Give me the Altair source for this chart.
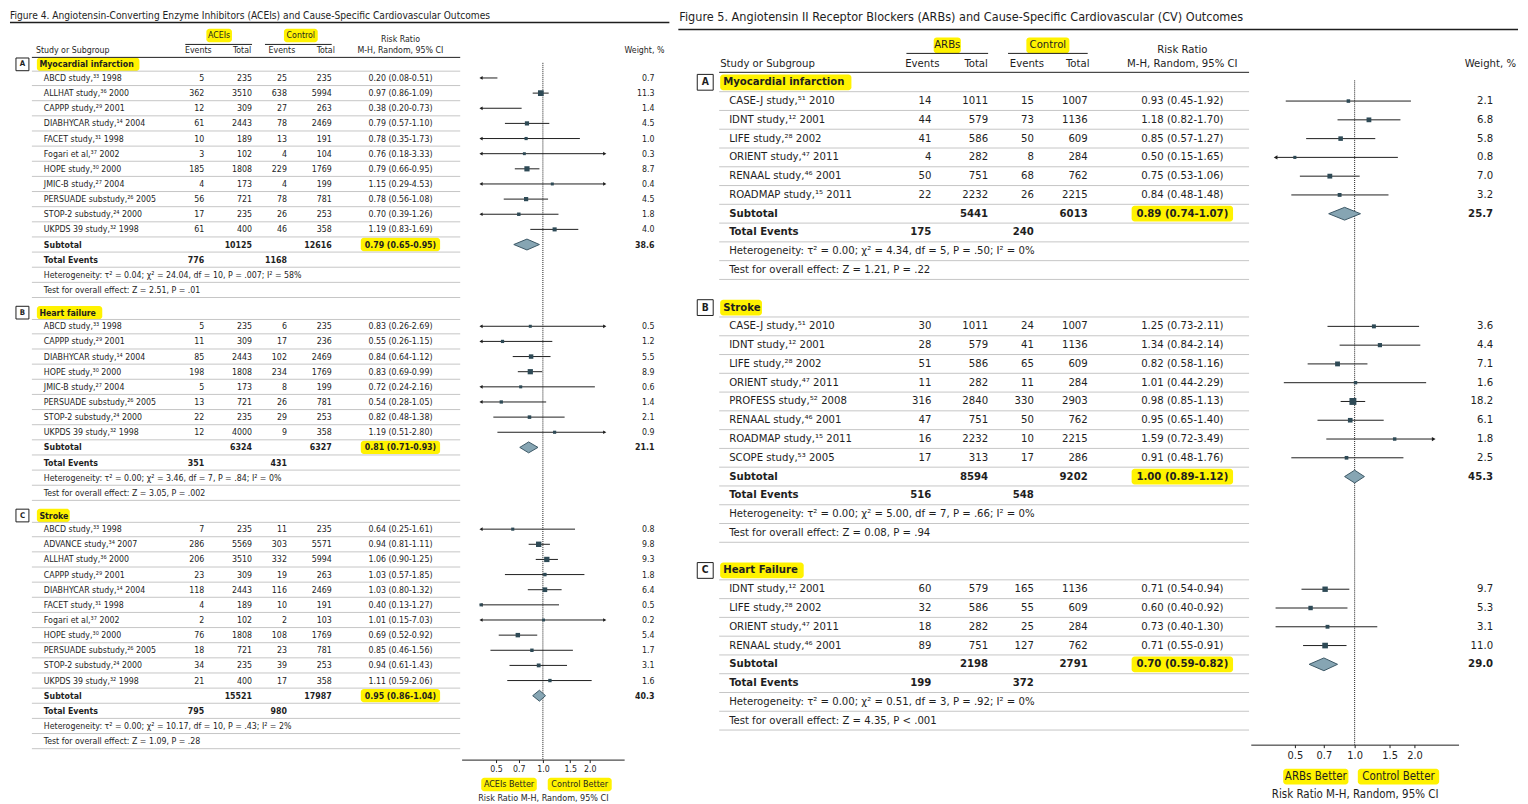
import altair as alt
import pandas as pd

FONT = "'Liberation Sans Narrow', 'DejaVu Sans Condensed', 'Roboto Condensed', 'Arial Narrow', 'Liberation Sans', sans-serif"
INK = "#1e1e1e"
GRID = "#c6c6c6"
HILITE = "#fff200"
SQ = "#2e4a56"
DIA_FILL = "#86a5b3"
DIA_STROKE = "#3c5866"

# ---------------- Figure 4 (ACEIs) ----------------
f4_title = "Figure 4. Angiotensin-Converting Enzyme Inhibitors (ACEIs) and Cause-Specific Cardiovascular Outcomes"
f4_group = "ACEIs"
f4_better = ["ACEIs Better", "Control Better"]

f4a_label = "Myocardial infarction"
f4a_studies = ["ABCD study,³³ 1998", "ALLHAT study,³⁶ 2000", "CAPPP study,²⁹ 2001", "DIABHYCAR study,¹⁴ 2004",
               "FACET study,³¹ 1998", "Fogari et al,³⁷ 2002", "HOPE study,³⁰ 2000", "JMIC-B study,²⁷ 2004",
               "PERSUADE substudy,²⁶ 2005", "STOP-2 substudy,²⁴ 2000", "UKPDS 39 study,³² 1998"]
f4a_ev_t = [5, 362, 12, 61, 10, 3, 185, 4, 56, 17, 61]
f4a_n_t = [235, 3510, 309, 2443, 189, 102, 1808, 173, 721, 235, 400]
f4a_ev_c = [25, 638, 27, 78, 13, 4, 229, 4, 78, 26, 46]
f4a_n_c = [235, 5994, 263, 2469, 191, 104, 1769, 199, 781, 253, 358]
f4a_rr = [0.20, 0.97, 0.38, 0.79, 0.78, 0.76, 0.79, 1.15, 0.78, 0.70, 1.19]
f4a_lo = [0.08, 0.86, 0.20, 0.57, 0.35, 0.18, 0.66, 0.29, 0.56, 0.39, 0.83]
f4a_hi = [0.51, 1.09, 0.73, 1.10, 1.73, 3.33, 0.95, 4.53, 1.08, 1.26, 1.69]
f4a_wt = [0.7, 11.3, 1.4, 4.5, 1.0, 0.3, 8.7, 0.4, 4.5, 1.8, 4.0]
f4a_sub = [10125, 12616, 0.79, 0.65, 0.95, 38.6]
f4a_events = [776, 1168]
f4a_het = "Heterogeneity: τ² = 0.04; χ² = 24.04, df = 10, P = .007; I² = 58%"
f4a_test = "Test for overall effect: Z = 2.51, P = .01"

f4b_label = "Heart failure"
f4b_studies = ["ABCD study,³³ 1998", "CAPPP study,²⁹ 2001", "DIABHYCAR study,¹⁴ 2004", "HOPE study,³⁰ 2000",
               "JMIC-B study,²⁷ 2004", "PERSUADE substudy,²⁶ 2005", "STOP-2 substudy,²⁴ 2000", "UKPDS 39 study,³² 1998"]
f4b_ev_t = [5, 11, 85, 198, 5, 13, 22, 12]
f4b_n_t = [235, 309, 2443, 1808, 173, 721, 235, 4000]
f4b_ev_c = [6, 17, 102, 234, 8, 26, 29, 9]
f4b_n_c = [235, 236, 2469, 1769, 199, 781, 253, 358]
f4b_rr = [0.83, 0.55, 0.84, 0.83, 0.72, 0.54, 0.82, 1.19]
f4b_lo = [0.26, 0.26, 0.64, 0.69, 0.24, 0.28, 0.48, 0.51]
f4b_hi = [2.69, 1.15, 1.12, 0.99, 2.16, 1.05, 1.38, 2.80]
f4b_wt = [0.5, 1.2, 5.5, 8.9, 0.6, 1.4, 2.1, 0.9]
f4b_sub = [6324, 6327, 0.81, 0.71, 0.93, 21.1]
f4b_events = [351, 431]
f4b_het = "Heterogeneity: τ² = 0.00; χ² = 3.46, df = 7, P = .84; I² = 0%"
f4b_test = "Test for overall effect: Z = 3.05, P = .002"

f4c_label = "Stroke"
f4c_studies = ["ABCD study,³³ 1998", "ADVANCE study,³⁴ 2007", "ALLHAT study,³⁶ 2000", "CAPPP study,²⁹ 2001",
               "DIABHYCAR study,¹⁴ 2004", "FACET study,³¹ 1998", "Fogari et al,³⁷ 2002", "HOPE study,³⁰ 2000",
               "PERSUADE substudy,²⁶ 2005", "STOP-2 substudy,²⁴ 2000", "UKPDS 39 study,³² 1998"]
f4c_ev_t = [7, 286, 206, 23, 118, 4, 2, 76, 18, 34, 21]
f4c_n_t = [235, 5569, 3510, 309, 2443, 189, 102, 1808, 721, 235, 400]
f4c_ev_c = [11, 303, 332, 19, 116, 10, 2, 108, 23, 39, 17]
f4c_n_c = [235, 5571, 5994, 263, 2469, 191, 103, 1769, 781, 253, 358]
f4c_rr = [0.64, 0.94, 1.06, 1.03, 1.03, 0.40, 1.01, 0.69, 0.85, 0.94, 1.11]
f4c_lo = [0.25, 0.81, 0.90, 0.57, 0.80, 0.13, 0.15, 0.52, 0.46, 0.61, 0.59]
f4c_hi = [1.61, 1.11, 1.25, 1.85, 1.32, 1.27, 7.03, 0.92, 1.56, 1.43, 2.06]
f4c_wt = [0.8, 9.8, 9.3, 1.8, 6.4, 0.5, 0.2, 5.4, 1.7, 3.1, 1.6]
f4c_sub = [15521, 17987, 0.95, 0.86, 1.04, 40.3]
f4c_events = [795, 980]
f4c_het = "Heterogeneity: τ² = 0.00; χ² = 10.17, df = 10, P = .43; I² = 2%"
f4c_test = "Test for overall effect: Z = 1.09, P = .28"

# ---------------- Figure 5 (ARBs) ----------------
f5_title = "Figure 5. Angiotensin II Receptor Blockers (ARBs) and Cause-Specific Cardiovascular (CV) Outcomes"
f5_group = "ARBs"
f5_better = ["ARBs Better", "Control Better"]

f5a_label = "Myocardial infarction"
f5a_studies = ["CASE-J study,⁵¹ 2010", "IDNT study,¹² 2001", "LIFE study,²⁸ 2002", "ORIENT study,⁴⁷ 2011",
               "RENAAL study,⁴⁶ 2001", "ROADMAP study,¹⁵ 2011"]
f5a_ev_t = [14, 44, 41, 4, 50, 22]
f5a_n_t = [1011, 579, 586, 282, 751, 2232]
f5a_ev_c = [15, 73, 50, 8, 68, 26]
f5a_n_c = [1007, 1136, 609, 284, 762, 2215]
f5a_rr = [0.93, 1.18, 0.85, 0.50, 0.75, 0.84]
f5a_lo = [0.45, 0.82, 0.57, 0.15, 0.53, 0.48]
f5a_hi = [1.92, 1.70, 1.27, 1.65, 1.06, 1.48]
f5a_wt = [2.1, 6.8, 5.8, 0.8, 7.0, 3.2]
f5a_sub = [5441, 6013, 0.89, 0.74, 1.07, 25.7]
f5a_events = [175, 240]
f5a_het = "Heterogeneity: τ² = 0.00; χ² = 4.34, df = 5, P = .50; I² = 0%"
f5a_test = "Test for overall effect: Z = 1.21, P = .22"

f5b_label = "Stroke"
f5b_studies = ["CASE-J study,⁵¹ 2010", "IDNT study,¹² 2001", "LIFE study,²⁸ 2002", "ORIENT study,⁴⁷ 2011",
               "PROFESS study,⁵² 2008", "RENAAL study,⁴⁶ 2001", "ROADMAP study,¹⁵ 2011", "SCOPE study,⁵³ 2005"]
f5b_ev_t = [30, 28, 51, 11, 316, 47, 16, 17]
f5b_n_t = [1011, 579, 586, 282, 2840, 751, 2232, 313]
f5b_ev_c = [24, 41, 65, 11, 330, 50, 10, 17]
f5b_n_c = [1007, 1136, 609, 284, 2903, 762, 2215, 286]
f5b_rr = [1.25, 1.34, 0.82, 1.01, 0.98, 0.95, 1.59, 0.91]
f5b_lo = [0.73, 0.84, 0.58, 0.44, 0.85, 0.65, 0.72, 0.48]
f5b_hi = [2.11, 2.14, 1.16, 2.29, 1.13, 1.40, 3.49, 1.76]
f5b_wt = [3.6, 4.4, 7.1, 1.6, 18.2, 6.1, 1.8, 2.5]
f5b_sub = [8594, 9202, 1.00, 0.89, 1.12, 45.3]
f5b_events = [516, 548]
f5b_het = "Heterogeneity: τ² = 0.00; χ² = 5.00, df = 7, P = .66; I² = 0%"
f5b_test = "Test for overall effect: Z = 0.08, P = .94"

f5c_label = "Heart Failure"
f5c_studies = ["IDNT study,¹² 2001", "LIFE study,²⁸ 2002", "ORIENT study,⁴⁷ 2011", "RENAAL study,⁴⁶ 2001"]
f5c_ev_t = [60, 32, 18, 89]
f5c_n_t = [579, 586, 282, 751]
f5c_ev_c = [165, 55, 25, 127]
f5c_n_c = [1136, 609, 284, 762]
f5c_rr = [0.71, 0.60, 0.73, 0.71]
f5c_lo = [0.54, 0.40, 0.40, 0.55]
f5c_hi = [0.94, 0.92, 1.30, 0.91]
f5c_wt = [9.7, 5.3, 3.1, 11.0]
f5c_sub = [2198, 2791, 0.70, 0.59, 0.82, 29.0]
f5c_events = [199, 372]
f5c_het = "Heterogeneity: τ² = 0.00; χ² = 0.51, df = 3, P = .92; I² = 0%"
f5c_test = "Test for overall effect: Z = 4.35, P < .001"

axis_ticks = [0.5, 0.7, 1.0, 1.5, 2.0]
axis_title = "Risk Ratio M-H, Random, 95% CI"
header_cols = ["Events", "Total", "Events", "Total"]


def sec(letter, label, studies, ev_t, n_t, ev_c, n_c, rr, lo, hi, wt, sub, events, het, test):
    return dict(letter=letter, label=label, studies=studies, ev_t=ev_t, n_t=n_t, ev_c=ev_c, n_c=n_c,
                rr=rr, lo=lo, hi=hi, wt=wt, sub=sub, events=events, het=het, test=test)


F4 = [sec("A", f4a_label, f4a_studies, f4a_ev_t, f4a_n_t, f4a_ev_c, f4a_n_c, f4a_rr, f4a_lo, f4a_hi, f4a_wt, f4a_sub, f4a_events, f4a_het, f4a_test),
      sec("B", f4b_label, f4b_studies, f4b_ev_t, f4b_n_t, f4b_ev_c, f4b_n_c, f4b_rr, f4b_lo, f4b_hi, f4b_wt, f4b_sub, f4b_events, f4b_het, f4b_test),
      sec("C", f4c_label, f4c_studies, f4c_ev_t, f4c_n_t, f4c_ev_c, f4c_n_c, f4c_rr, f4c_lo, f4c_hi, f4c_wt, f4c_sub, f4c_events, f4c_het, f4c_test)]
F5 = [sec("A", f5a_label, f5a_studies, f5a_ev_t, f5a_n_t, f5a_ev_c, f5a_n_c, f5a_rr, f5a_lo, f5a_hi, f5a_wt, f5a_sub, f5a_events, f5a_het, f5a_test),
      sec("B", f5b_label, f5b_studies, f5b_ev_t, f5b_n_t, f5b_ev_c, f5b_n_c, f5b_rr, f5b_lo, f5b_hi, f5b_wt, f5b_sub, f5b_events, f5b_het, f5b_test),
      sec("C", f5c_label, f5c_studies, f5c_ev_t, f5c_n_t, f5c_ev_c, f5c_n_c, f5c_rr, f5c_lo, f5c_hi, f5c_wt, f5c_sub, f5c_events, f5c_het, f5c_test)]

CLIP_LO, CLIP_HI = 0.4, 2.5


def fmt_rr(r, lo, hi):
    return f"{r:.2f} ({lo:.2f}-{hi:.2f})"


def make_fig(sections, title, group, better, L):
    u_of = lambda py: (py - L["y0"]) / L["pitch"]
    yscale = alt.Scale(domain=[u_of(0), u_of(L["H"])], range=[0, L["H"]], nice=False, zero=False)
    Y = alt.Y("u:Q", scale=yscale, axis=None)
    xscale = alt.Scale(type="log", domain=[0.3, 10 / 3], range=list(L["xrange"]), nice=False)
    xaxis = alt.Axis(values=axis_ticks, format=".1f", title=axis_title, grid=False, tickSize=3,
                     tickColor=INK, domainColor=INK, labelFont=FONT, labelFontSize=L["fs_axis"],
                     labelColor=INK, labelPadding=2, labelOverlap=False, labelFlush=False,
                     titleFont=FONT, titleFontSize=L["fs_axis_title"], titleFontWeight="normal",
                     titleColor=INK, titlePadding=L["title_pad"])

    def X(f):
        return alt.X(f"{f}:Q", scale=xscale, axis=xaxis)

    rows, heads, lines, diam, forest = [], [], [], [], []
    u = 0.0
    for si, s in enumerate(sections):
        if si:
            u += L["gap"]
        heads.append(dict(u=u, letter=s["letter"], label=s["label"]))
        prev = u
        u += L["first"]
        seq = []
        for i, name in enumerate(s["studies"]):
            seq.append(dict(u=u, bold=False, name=name, ev1=str(s["ev_t"][i]), tot1=str(s["n_t"][i]),
                            ev2=str(s["ev_c"][i]), tot2=str(s["n_c"][i]),
                            rr=fmt_rr(s["rr"][i], s["lo"][i], s["hi"][i]), wt=f"{s['wt'][i]:.1f}"))
            forest.append(dict(u=u, est=s["rr"][i], lo=max(s["lo"][i], CLIP_LO), hi=min(s["hi"][i], CLIP_HI),
                               al=s["lo"][i] < CLIP_LO, ar=s["hi"][i] > CLIP_HI, w=s["wt"][i]))
            u += 1
        sb = s["sub"]
        seq.append(dict(u=u, bold=True, name="Subtotal", ev1="", tot1=str(sb[0]), ev2="", tot2=str(sb[1]),
                        rr=fmt_rr(sb[2], sb[3], sb[4]), wt=f"{sb[5]:.1f}"))
        dh = L["dia_h"]
        diam += [dict(g=s["letter"], x=sb[3], u=u, u2=u), dict(g=s["letter"], x=sb[2], u=u - dh, u2=u + dh),
                 dict(g=s["letter"], x=sb[4], u=u, u2=u)]
        u += 1
        seq.append(dict(u=u, bold=True, name="Total Events", ev1=str(s["events"][0]), tot1="",
                        ev2=str(s["events"][1]), tot2="", rr="", wt=""))
        u += 1
        seq.append(dict(u=u, bold=False, name=s["het"], ev1="", tot1="", ev2="", tot2="", rr="", wt=""))
        u += 1
        seq.append(dict(u=u, bold=False, name=s["test"], ev1="", tot1="", ev2="", tot2="", rr="", wt=""))
        for r in seq:
            lines.append(dict(u=(prev + r["u"]) / 2))
            prev = r["u"]
        lines.append(dict(u=prev + 0.5))
        rows += seq

    rows = pd.DataFrame(rows)
    heads = pd.DataFrame(heads)
    lines = pd.DataFrame(lines)
    diam = pd.DataFrame(diam)
    forest = pd.DataFrame(forest)
    layers = []
    hh = L["hl_h"]

    def rect(x0, x1, u0, u1, fill, stroke=None, radius=0):
        d = pd.DataFrame({"u": u0, "u2": u1})
        kw = dict(fill=fill, cornerRadius=radius)
        if stroke:
            kw.update(stroke=stroke, strokeWidth=1)
        return alt.Chart(d).mark_rect(**kw).encode(x=alt.value(x0), x2=alt.value(x1), y=Y, y2="u2:Q")

    def hl_width(text, fs, bold):
        return len(text) * fs * (L["cwb"] if bold else L["cw"]) + L["hl_pad"]

    def text_at(txt, x, uval, size, align="left", bold=False, baseline="middle"):
        d = pd.DataFrame({"u": [uval], "t": [txt]})
        return alt.Chart(d).mark_text(align=align, baseline=baseline, font=FONT, fontSize=size,
                                      fontWeight="bold" if bold else "normal", color=INK).encode(
            x=alt.value(x), y=Y, text="t:N")

    # highlights
    sub_u = rows.loc[rows["name"] == "Subtotal", "u"].tolist()
    w = hl_width(rows.loc[rows["name"] == "Subtotal", "rr"].iloc[0], L["fs"], True)
    layers.append(rect(L["rr"] - w / 2, L["rr"] + w / 2, [v - hh for v in sub_u], [v + hh for v in sub_u], HILITE, radius=3))
    for _, h in heads.iterrows():
        w = hl_width(h["label"], L["fs"], True)
        layers.append(rect(L["lab_x"], L["lab_x"] + w, [h["u"] - hh], [h["u"] + hh], HILITE, radius=3))
        layers.append(rect(L["box"][0], L["box"][1], [h["u"] - L["box_h"]], [h["u"] + L["box_h"]], "white", stroke=INK))
        layers.append(text_at(h["letter"], (L["box"][0] + L["box"][1]) / 2, h["u"], L["fs"] - 1, align="center", bold=True))
        layers.append(text_at(h["label"], L["lab_x"] + L["hl_pad"] / 2, h["u"], L["fs"], bold=True))
    gu = u_of(L["grp_y"])
    for c, t in zip(L["grp_c"], [group, "Control"]):
        w = hl_width(t, L["fs"], False)
        layers.append(rect(c - w / 2, c + w / 2, [gu - hh], [gu + hh], HILITE, radius=3))
    bu = u_of(L["better_y"])
    for c, t in zip(L["better_c"], better):
        w = hl_width(t, L["fs_axis_title"], False)
        layers.append(rect(c - w / 2, c + w / 2, [bu - hh], [bu + hh], HILITE, radius=3))

    # row separator lines
    layers.append(alt.Chart(lines).mark_rule(color=GRID, strokeWidth=1).encode(
        x=alt.value(L["line_x"][0]), x2=alt.value(L["line_x"][1]), y=Y))
    # header lines
    hl = pd.DataFrame({"u": [u_of(L["hline_y"])]})
    layers.append(alt.Chart(hl).mark_rule(color=INK, strokeWidth=1).encode(
        x=alt.value(L["line_x"][0]), x2=alt.value(L["line_x"][1]), y=Y))
    for x0, x1 in L["ul"]:
        d = pd.DataFrame({"u": [u_of(L["ul_y"])]})
        layers.append(alt.Chart(d).mark_rule(color=INK, strokeWidth=1).encode(x=alt.value(x0), x2=alt.value(x1), y=Y))
    tl = pd.DataFrame({"u": [u_of(L["title_line_y"])]})
    layers.append(alt.Chart(tl).mark_rule(color=INK, strokeWidth=1.6).encode(
        x=alt.value(L["title_line_x"][0]), x2=alt.value(L["title_line_x"][1]), y=Y))

    # titles / headers
    layers.append(text_at(title, L["title_x"], u_of(L["title_top"]), L["fs_title"], baseline="top"))
    layers.append(text_at("Study or Subgroup", L["hdr_name_x"], u_of(L["ev_hdr_y"]), L["fs"]))
    for c, t in zip(L["evh"], header_cols):
        layers.append(text_at(t, c, u_of(L["ev_hdr_y"]), L["fs"], align="center"))
    for c, t in zip(L["grp_c"], [group, "Control"]):
        layers.append(text_at(t, c, gu, L["fs"], align="center"))
    layers.append(text_at("Risk Ratio", L["rr"], u_of(L["rr1_y"]), L["fs"], align="center"))
    layers.append(text_at("M-H, Random, 95% CI", L["rr"], u_of(L["ev_hdr_y"]), L["fs"], align="center"))
    layers.append(text_at("Weight, %", L["wt_hdr_x"], u_of(L["ev_hdr_y"]), L["fs"], align="right"))
    for c, t in zip(L["better_c"], better):
        layers.append(text_at(t, c, bu, L["fs_axis_title"], align="center"))

    # table cells
    cols = [("name", L["name_x"], "left"), ("ev1", L["ev1"], "right"), ("tot1", L["tot1"], "right"),
            ("ev2", L["ev2"], "right"), ("tot2", L["tot2"], "right"), ("rr", L["rr"], "center"),
            ("wt", L["wt"], "right")]
    for key, x, align in cols:
        for b in (False, True):
            d = rows[(rows["bold"] == b) & (rows[key] != "")][["u", key]]
            if len(d) == 0:
                continue
            layers.append(alt.Chart(d).mark_text(align=align, baseline="middle", font=FONT, fontSize=L["fs"],
                                                 fontWeight="bold" if b else "normal", color=INK).encode(
                x=alt.value(x), y=Y, text=f"{key}:N"))

    # forest plot
    ref = pd.DataFrame({"x": [1.0], "u": [-0.1], "u2": [u_of(L["H"])]})
    layers.append(alt.Chart(ref).mark_rule(color=INK, strokeWidth=1, strokeDash=[1, 1]).encode(
        x=X("x"), y=Y, y2="u2:Q"))
    layers.append(alt.Chart(forest).mark_rule(color=INK, strokeWidth=1).encode(x=X("lo"), x2="hi:Q", y=Y))
    fl = forest[forest["al"]]
    if len(fl):
        layers.append(alt.Chart(fl).mark_point(shape="triangle-left", filled=True, size=L["arrow"], color=INK,
                                               opacity=1).encode(x=X("lo"), y=Y))
    fr = forest[forest["ar"]]
    if len(fr):
        layers.append(alt.Chart(fr).mark_point(shape="triangle-right", filled=True, size=L["arrow"], color=INK,
                                               opacity=1).encode(x=X("hi"), y=Y))
    fs_ = forest[(forest["est"] >= CLIP_LO) & (forest["est"] <= CLIP_HI)]
    layers.append(alt.Chart(fs_).mark_square(filled=True, color=SQ, opacity=1).encode(
        x=X("est"), y=Y, size=alt.Size("w:Q", scale=alt.Scale(domain=[0, L["wmax"]], range=[L["smin"], L["smax"]]), legend=None)))
    layers.append(alt.Chart(diam).mark_area(orient="vertical", fill=DIA_FILL, stroke=DIA_STROKE, strokeWidth=1,
                                            interpolate="linear").encode(
        x=X("x"), y=Y, y2="u2:Q", detail="g:N"))

    return alt.layer(*layers).properties(width=L["W"], height=L["H"])


L4 = dict(W=668, H=752, y0=54, pitch=15.2, gap=1.5, first=0.9,
          name_x=34, ev1=195, tot1=243, ev2=278, tot2=323, rr=392, wt=647,
          hdr_name_x=26, grp_y=25, ul_y=34, ev_hdr_y=40, rr1_y=29,
          grp_c=[210, 292], ul=[(176, 243), (256, 323)], evh=[189, 233, 273, 317],
          wt_hdr_x=657, hline_y=47, line_x=(22, 452),
          box=(6, 19), box_h=0.42, lab_x=27,
          title_x=0, title_top=0, title_line_y=12, title_line_x=(0, 662),
          xrange=(453.4, 616.6), better_c=[501, 572], better_y=777,
          fs=8.8, fs_title=10.2, fs_axis=8.8, fs_axis_title=9, title_pad=20,
          hl_h=0.44, cw=0.47, cwb=0.53, hl_pad=5, dia_h=0.36, arrow=14, wmax=12, smin=8, smax=52)

L5 = dict(W=844, H=737, y0=72, pitch=18.85, gap=2, first=1,
          name_x=52, ev1=255, tot1=312, ev2=358, tot2=412, rr=507, wt=819,
          hdr_name_x=43, grp_y=35, ul_y=43, ev_hdr_y=54, rr1_y=40,
          grp_c=[271, 372], ul=[(230, 312), (332, 412)], evh=[246, 300, 351, 402],
          wt_hdr_x=842, hline_y=62, line_x=(42, 574),
          box=(20, 36), box_h=0.42, lab_x=43,
          title_x=2, title_top=0, title_line_y=19, title_line_x=(1, 844),
          xrange=(575.7, 784.3), better_c=[641, 724], better_y=769,
          fs=11.3, fs_title=12.6, fs_axis=11, fs_axis_title=11.5, title_pad=28,
          hl_h=0.42, cw=0.47, cwb=0.53, hl_pad=6, dia_h=0.34, arrow=18, wmax=20, smin=9, smax=68)

left = make_fig(F4, f4_title, f4_group, f4_better, L4)
right = make_fig(F5, f5_title, f5_group, f5_better, L5)

chart = alt.hconcat(left, right, spacing=0).properties(padding=0).configure_view(stroke="transparent")
chart.save("out.html", embed_options={"renderer": "svg", "actions": False})
